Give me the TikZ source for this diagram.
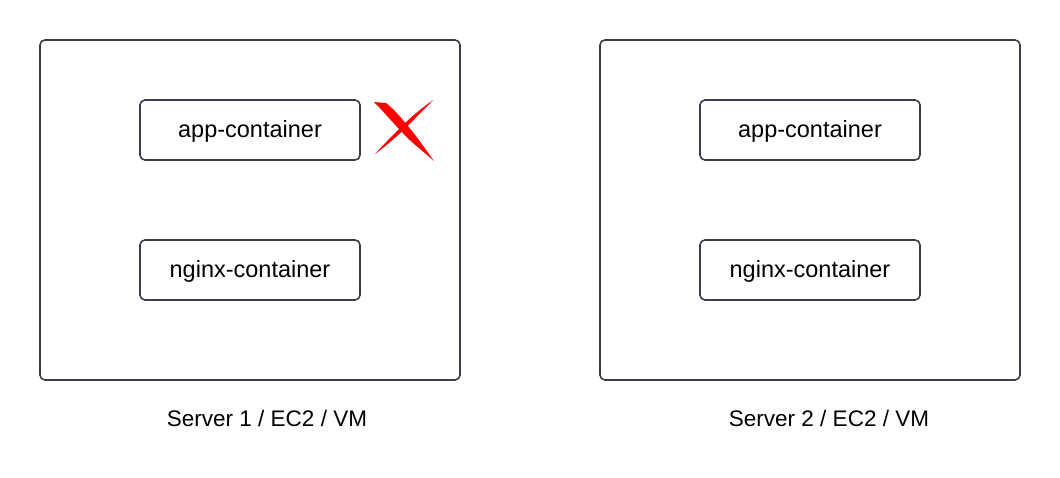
\documentclass[tikz,border=0pt]{standalone}
\usepackage{fontspec}
\setmainfont{Liberation Sans}
\definecolor{edge}{HTML}{3B3E46}
\definecolor{xred}{HTML}{FF0000}
\begin{document}
\begin{tikzpicture}[x=1pt,y=-1pt,
  server/.style={draw=edge,line width=1.6pt,rounded corners=5pt},
  cont/.style={draw=edge,line width=1.6pt,rounded corners=5pt,minimum width=220pt,minimum height=60pt,font=\fontsize{23.5}{26}\selectfont,inner sep=0pt,text depth=0pt,text height=15pt},
  lbl/.style={font=\fontsize{22.5}{26}\selectfont,inner sep=0pt}]
\useasboundingbox (0,0) rectangle (1060,477);
% server 1
\draw[server] (40,40) rectangle (460,380);
\node[cont] (app1) at (250,130) {app-container};
\node[cont] (nginx1) at (250,270) {nginx-container};
\node[lbl,anchor=base] (s1) at (267,426) {Server 1 / EC2 / VM};
% server 2
\draw[server] (600,40) rectangle (1020,380);
\node[cont] (app2) at (810,130) {app-container};
\node[cont] (nginx2) at (810,270) {nginx-container};
\node[lbl,anchor=base] (s2) at (829,426) {Server 2 / EC2 / VM};
% red X
\fill[xred] (374,102) -- (386,103)
  .. controls (395,110) and (403,120) .. (409.5,128)
  .. controls (418,138) and (426,150) .. (434,161)
  .. controls (424,152) and (412,143) .. (403.7,134)
  .. controls (394,124) and (384,112) .. cycle;
\fill[xred] (433,100)
  .. controls (424,110) and (414,119) .. (405.4,128.5)
  .. controls (396,137) and (386,146) .. (375,154)
  .. controls (384,144) and (394,134) .. (402.6,125.5)
  .. controls (412,116) and (422,108) .. cycle;
\end{tikzpicture}
\end{document}
